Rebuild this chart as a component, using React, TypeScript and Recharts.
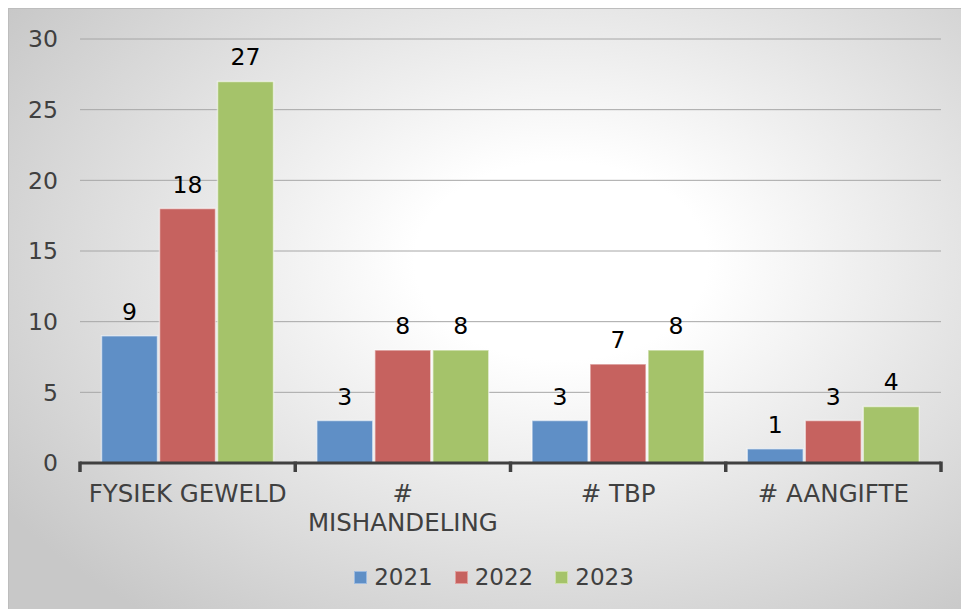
import { Bar, BarChart, CartesianGrid, LabelList, Legend, XAxis, YAxis } from "recharts";

const categories = ["FYSIEK GEWELD", "# MISHANDELING", "# TBP", "# AANGIFTE"];
const values2021 = [9, 3, 3, 1];
const values2022 = [18, 8, 7, 3];
const values2023 = [27, 8, 8, 4];
const yTicks = [0, 5, 10, 15, 20, 25, 30];

const series = [
  { key: "y2021", name: "2021", fill: "#5f8fc6", border: "#9dbbe0" },
  { key: "y2022", name: "2022", fill: "#c6625f", border: "#e0a09e" },
  { key: "y2023", name: "2023", fill: "#a5c36a", border: "#cde0a8" },
];

const data = categories.map((cat, i) => ({
  cat,
  y2021: values2021[i],
  y2022: values2022[i],
  y2023: values2023[i],
}));

const FONT = "'DejaVu Sans', Verdana, sans-serif";
const AXIS = "#404040";

// labels longer than the band get broken at the first space
function splitLabel(label: string) {
  if (label.length <= 13) return [label];
  const i = label.indexOf(" ");
  return i < 0 ? [label] : [label.slice(0, i), label.slice(i + 1)];
}

type TickProps = {
  x?: number;
  y?: number;
  index?: number;
  visibleTicksCount?: number;
  payload?: { value: string; offset?: number };
};

// category label plus the tick marks on the band boundaries (Excel style)
function CategoryTick({ x = 0, y = 0, index = 0, visibleTicksCount = 0, payload }: TickProps) {
  const lines = splitLabel(payload?.value ?? "");
  const half = payload?.offset ?? 0;
  const isLast = index === visibleTicksCount - 1;
  return (
    <g>
      <line x1={x - half} x2={x - half} y1={y - 1.5} y2={y + 9} stroke={AXIS} strokeWidth={3.5} />
      {isLast && (
        <line x1={x + half} x2={x + half} y1={y - 1.5} y2={y + 9} stroke={AXIS} strokeWidth={3.5} />
      )}
      <text x={x} y={y + 39} textAnchor="middle" fill={AXIS} fontSize={24.5} fontFamily={FONT}>
        {lines.map((line, i) => (
          <tspan key={i} x={x} dy={i === 0 ? 0 : 29}>
            {line}
          </tspan>
        ))}
      </text>
    </g>
  );
}

function LegendContent() {
  return (
    <div
      style={{
        display: "flex",
        justifyContent: "center",
        alignItems: "center",
        height: 40,
        paddingLeft: 38,
        fontFamily: FONT,
        fontSize: 23,
        color: AXIS,
      }}
    >
      {series.map((s) => (
        <div key={s.key} style={{ display: "flex", alignItems: "center", margin: "0 11px" }}>
          <span
            style={{
              display: "inline-block",
              width: 11,
              height: 11,
              background: s.fill,
              border: `1px solid ${s.border}`,
              marginRight: 7,
            }}
          />
          <span>{s.name}</span>
        </div>
      ))}
    </div>
  );
}

export default function App() {
  return (
    <div
      style={{
        position: "absolute",
        left: 8,
        top: 8,
        width: 952,
        height: 600,
        borderTop: "1px solid #bdbdbd",
        borderLeft: "1px solid #bdbdbd",
        background: "radial-gradient(ellipse 70% 75% at 58% 42%, #ffffff 0%, #ffffff 22%, #c8c8c8 100%)",
      }}
    >
      <BarChart
        width={952}
        height={600}
        data={data}
        margin={{ top: 30, right: 20, bottom: 12, left: 0 }}
        barCategoryGap="10%"
        barGap={2}
      >
        <CartesianGrid vertical={false} stroke="#a6a6a6" />
        <XAxis
          dataKey="cat"
          height={94}
          axisLine={{ stroke: AXIS, strokeWidth: 3 }}
          tickLine={false}
          tickSize={0}
          tickMargin={0}
          interval={0}
          tick={<CategoryTick />}
        />
        <YAxis
          domain={[0, 30]}
          ticks={yTicks}
          width={71}
          axisLine={false}
          tickLine={false}
          tickSize={6}
          tickMargin={16}
          tick={{ fill: AXIS, fontSize: 23.5, fontFamily: FONT }}
        />
        <Legend verticalAlign="bottom" content={<LegendContent />} />
        {series.map((s) => (
          <Bar
            key={s.key}
            dataKey={s.key}
            name={s.name}
            fill={s.fill}
            stroke="rgba(255,255,255,0.55)"
            strokeWidth={1.5}
            isAnimationActive={false}
          >
            <LabelList
              dataKey={s.key}
              position="top"
              offset={16}
              fill="#000000"
              fontSize={23.5}
              fontFamily={FONT}
            />
          </Bar>
        ))}
      </BarChart>
    </div>
  );
}
